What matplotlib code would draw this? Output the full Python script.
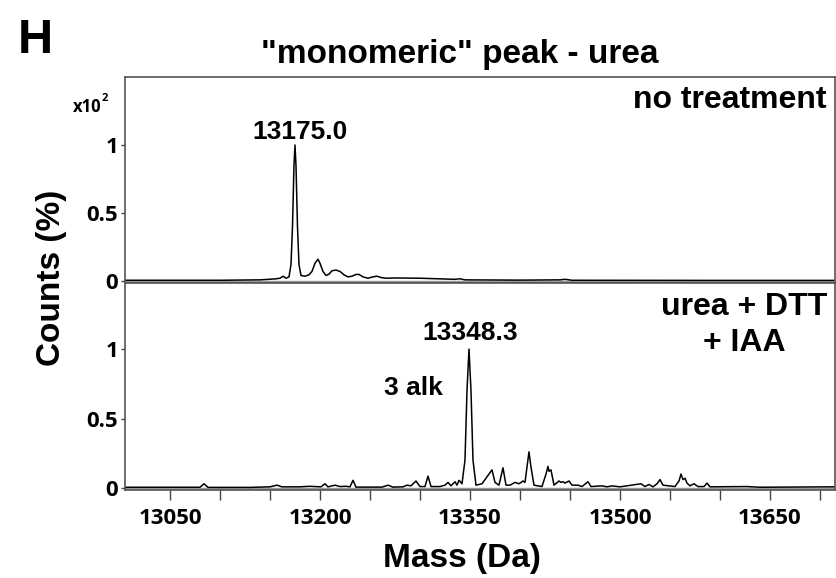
import matplotlib
matplotlib.use('Agg')
import matplotlib.pyplot as plt
from matplotlib.ticker import MultipleLocator

# top panel: no treatment (mass in Da, counts x10^2)
mass_top = [13005, 13100, 13140, 13155, 13160, 13163, 13166, 13169, 13171, 13172.5,
            13174, 13175, 13176, 13177.5, 13179, 13181, 13185, 13189, 13192, 13195,
            13198, 13200, 13203, 13206, 13209, 13212, 13216, 13220, 13224, 13228,
            13232, 13236, 13239, 13243, 13248, 13253, 13257, 13261, 13266, 13275,
            13300, 13335, 13340, 13345, 13400, 13440, 13445, 13452, 13600, 13715]
counts_top = [0.005, 0.005, 0.008, 0.015, 0.02, 0.035, 0.02, 0.03, 0.12, 0.4,
              0.85, 1.0, 0.85, 0.4, 0.12, 0.04, 0.035, 0.045, 0.07, 0.13,
              0.16, 0.13, 0.07, 0.04, 0.05, 0.075, 0.08, 0.07, 0.045, 0.03,
              0.035, 0.048, 0.048, 0.03, 0.02, 0.03, 0.035, 0.025, 0.02, 0.022,
              0.02, 0.012, 0.016, 0.008, 0.006, 0.008, 0.012, 0.005, 0.004, 0.004]

# bottom panel: urea + DTT + IAA
mass_bot = [13005, 13060, 13080, 13084, 13088, 13130, 13150, 13157, 13162, 13180,
            13190, 13195, 13201, 13205, 13208, 13215, 13220, 13226, 13230, 13233,
            13236, 13262, 13268, 13273, 13283, 13287, 13291, 13296, 13300, 13305,
            13308, 13311, 13320, 13325, 13328, 13331, 13335, 13337, 13339, 13342,
            13345, 13347, 13349, 13351, 13353, 13356, 13362, 13368, 13372, 13375,
            13379, 13383, 13386, 13390, 13395, 13399, 13403, 13405, 13407, 13409,
            13411, 13414, 13422, 13426, 13428, 13429, 13431, 13434, 13439, 13441,
            13443, 13445, 13449, 13452, 13458, 13462, 13468, 13471, 13482, 13487,
            13492, 13500, 13521, 13525, 13529, 13533, 13537, 13540, 13543, 13555,
            13559, 13561, 13563, 13565, 13567, 13570, 13574, 13578, 13584, 13587,
            13590, 13627, 13640, 13715]
counts_bot = [0.005, 0.005, 0.005, 0.03, 0.004, 0.004, 0.008, 0.02, 0.008, 0.008,
              0.012, 0.01, 0.008, 0.03, 0.008, 0.02, 0.01, 0.012, 0.008, 0.055,
              0.006, 0.006, 0.02, 0.006, 0.008, 0.02, 0.015, 0.05, 0.01, 0.01,
              0.085, 0.01, 0.01, 0.02, 0.04, 0.015, 0.045, 0.02, 0.055, 0.03,
              0.2, 0.7, 1.0, 0.7, 0.2, 0.02, 0.03, 0.09, 0.13, 0.04,
              0.02, 0.145, 0.02, 0.02, 0.04, 0.03, 0.05, 0.04, 0.15, 0.26,
              0.15, 0.02, 0.01, 0.1, 0.155, 0.12, 0.13, 0.02, 0.05, 0.04,
              0.045, 0.035, 0.05, 0.02, 0.02, 0.01, 0.045, 0.01, 0.015, 0.008,
              0.015, 0.008, 0.03, 0.01, 0.025, 0.008, 0.03, 0.06, 0.02, 0.01,
              0.05, 0.1, 0.06, 0.07, 0.035, 0.015, 0.03, 0.01, 0.01, 0.035,
              0.008, 0.01, 0.005, 0.008]

xticks = [13050, 13200, 13350, 13500, 13650]
yticks = [0, 0.5, 1]
ytick_labels = ['0', '0.5', '1']

arial = ['Liberation Sans', 'DejaVu Sans']
calib = ['Open Sans', 'DejaVu Sans']

fig = plt.figure(figsize=(8.36, 5.78), dpi=100)
ax1 = fig.add_axes([0.1495, 0.5104, 0.8493, 0.3564])
ax2 = fig.add_axes([0.1495, 0.1522, 0.8493, 0.358], sharex=ax1)

for ax, m, c, ytop in [(ax1, mass_top, counts_top, 1.5), (ax2, mass_bot, counts_bot, 1.475)]:
    ax.plot(m, c, color='black', lw=1.1)
    ax.axhline(-0.008, color='#999999', lw=2.5, zorder=1)
    ax.set_ylim(-0.015, ytop)
    ax.set_yticks(yticks)
    ax.set_yticklabels(ytick_labels, fontfamily=calib, fontweight='bold', fontsize=16)
    ax.tick_params(axis='y', length=3, width=1, pad=2, color='#444444')
    for s in ax.spines.values():
        s.set_color('#555555')
        s.set_linewidth(1.2)

ax1.set_xlim(13005, 13715)
ax1.tick_params(axis='x', bottom=False, labelbottom=False)
ax2.set_xticks(xticks)
ax2.xaxis.set_minor_locator(MultipleLocator(50))
ax2.set_xticklabels([str(t) for t in xticks], fontfamily=calib, fontweight='bold', fontsize=16)
ax2.tick_params(axis='x', which='both', length=7, width=1, pad=6, color='#444444')

# annotations (condensed look approximated with a smaller size)
ax1.text(13180, 1.044, '13175.0', ha='center', va='baseline', fontfamily=arial, fontweight='bold', fontsize=19)
ax2.text(13350, 1.065, '13348.3', ha='center', va='baseline', fontfamily=arial, fontweight='bold', fontsize=19)
ax2.text(13293, 0.67, '3 alk', ha='center', va='baseline', fontfamily=arial, fontweight='bold', fontsize=19)
ax1.text(0.9887, 0.85, 'no treatment', transform=ax1.transAxes, ha='right', va='baseline',
         fontfamily=arial, fontweight='bold', fontsize=23)
ax2.text(0.872, 0.957, 'urea + DTT\n+ IAA', transform=ax2.transAxes, ha='center', va='top',
         multialignment='center', fontfamily=arial, fontweight='bold', fontsize=23, linespacing=1.25)

fig.text(0.0215, 0.908, 'H', fontfamily=arial, fontweight='bold', fontsize=35, va='baseline')
fig.text(0.55, 0.891, '"monomeric" peak - urea', ha='center', va='baseline',
         fontfamily=arial, fontweight='bold', fontsize=24)
fig.text(0.553, 0.019, 'Mass (Da)', ha='center', va='baseline', fontfamily=arial, fontweight='bold', fontsize=24)
fig.text(0.062, 0.519, 'Counts (%)', ha='center', va='center', rotation=90,
         fontfamily=arial, fontweight='bold', fontsize=24)
fig.text(0.087, 0.806, 'x10', ha='left', va='baseline', fontfamily=calib, fontweight='bold', fontsize=12)
fig.text(0.121, 0.825, '2', ha='left', va='baseline', fontfamily=calib, fontweight='bold', fontsize=8)

fig.savefig('out.png', dpi=100)
